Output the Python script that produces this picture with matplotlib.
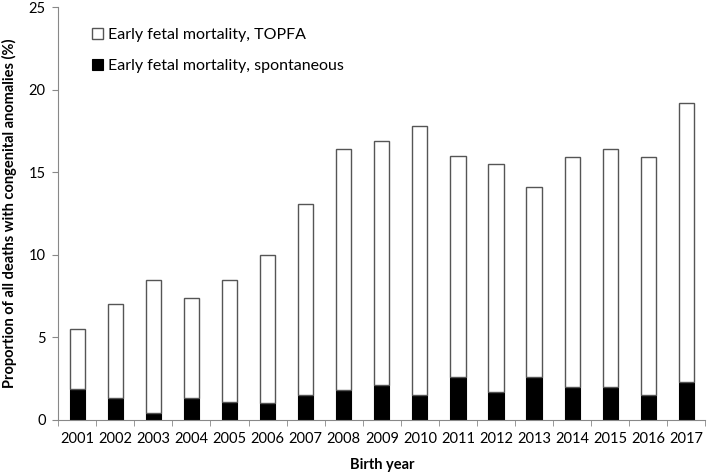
import numpy as np
import matplotlib
matplotlib.use("Agg")
import matplotlib.pyplot as plt

plt.rcParams['font.family'] = ['Lato', 'DejaVu Sans']

years = [str(y) for y in range(2001, 2018)]
total = [5.5, 7.0, 8.5, 7.4, 8.5, 10.0, 13.1, 16.4, 16.9, 17.8, 16.0, 15.5, 14.1, 15.9, 16.4, 15.9, 19.2]
spontaneous = [1.9, 1.3, 0.4, 1.3, 1.1, 1.0, 1.5, 1.8, 2.1, 1.5, 2.6, 1.7, 2.6, 2.0, 2.0, 1.5, 2.3]
topfa = [t - s for t, s in zip(total, spontaneous)]

fig = plt.figure(figsize=(7.09, 4.74), dpi=100)
ax = fig.add_axes([0.082, 0.114, 0.913, 0.871])

x = np.arange(len(years))
w = 0.4
ax.bar(x, spontaneous, w, color='black', edgecolor='black', linewidth=0.8,
       label='Early fetal mortality, spontaneous')
ax.bar(x, topfa, w, bottom=spontaneous, color='white', edgecolor='#555555',
       linewidth=1.0, label='Early fetal mortality, TOPFA')

ax.set_xlim(-0.5, len(years) - 0.5)
ax.set_ylim(0, 25)
ax.set_yticks(range(0, 26, 5))
ax.set_xticks(x)
ax.set_xticklabels(years)
ax.set_xticks(np.arange(-0.5, len(years), 1), minor=True)
ax.tick_params(axis='x', which='major', length=0, labelsize=10.5, pad=9)
ax.tick_params(axis='x', which='minor', length=4, color='#888888')
ax.tick_params(axis='y', length=4, color='#888888', labelsize=10.5, pad=5)

for s in ['top', 'right']:
    ax.spines[s].set_visible(False)
for s in ['left', 'bottom']:
    ax.spines[s].set_color('#888888')

ax.set_xlabel('Birth year', fontsize=10.5, fontweight='bold', labelpad=8)
ax.set_ylabel('Proportion of all deaths with congenital anomalies (%)', fontsize=10.5,
              fontweight='bold', labelpad=8)

handles, labels = ax.get_legend_handles_labels()
ax.legend(handles[::-1], labels[::-1], loc='upper left', bbox_to_anchor=(0.03, 0.985),
          frameon=False, fontsize=11.5, labelspacing=1.05, handlelength=0.7,
          handleheight=0.7, handletextpad=0.3)

fig.savefig('out.png', dpi=100)
